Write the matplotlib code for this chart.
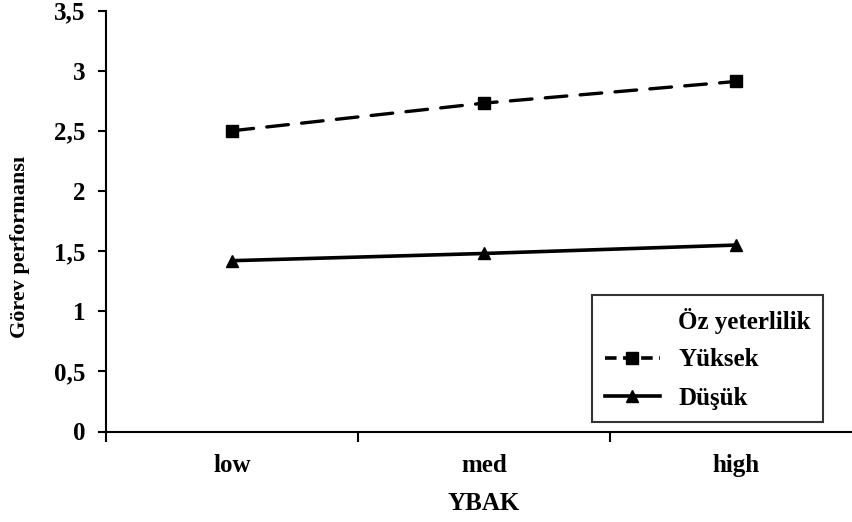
import matplotlib
matplotlib.use("Agg")

import matplotlib.pyplot as plt
from matplotlib.lines import Line2D
import numpy as np

plt.rcParams.update({"font.family": "Liberation Serif", "font.weight": "bold",
                     "axes.labelweight": "bold", "font.size": 18})

categories = ["low", "med", "high"]
yuksek = [2.50, 2.73, 2.91]
dusuk = [1.42, 1.48, 1.55]
yticks = [0, 0.5, 1, 1.5, 2, 2.5, 3, 3.5]
ytick_labels = ["0", "0,5", "1", "1,5", "2", "2,5", "3", "3,5"]

W, H = 852, 522
fig = plt.figure(figsize=(W / 100, H / 100), dpi=100)
# axes from x=106 to 862 (past the right edge), y from 10 to 431
ax = fig.add_axes([106 / W, (H - 431.5) / H, 756 / W, 421 / H])

x = np.arange(len(categories))
ax.plot(x, yuksek, color="black", lw=2.4, ls=(0, (6.5, 4)), marker="s", ms=8.5,
        dash_capstyle="round", label="Yüksek", clip_on=False)
ax.plot(x, dusuk, color="black", lw=2.6, ls="-", marker="^", ms=8.5,
        label="Düşük", clip_on=False)

ax.set_xlim(-0.5, 2.5)
ax.set_ylim(0, 3.5)
ax.set_yticks(yticks)
ax.set_yticklabels(ytick_labels)
ax.set_xticks([-0.5, 0.5, 1.5, 2.5])
ax.set_xticklabels([])
ax.set_xticks(x, minor=True)
ax.set_xticklabels(categories, minor=True)
ax.tick_params(axis="x", which="major", direction="out", length=7, width=1.5)
ax.tick_params(axis="x", which="minor", length=0, pad=16, labelsize=18)
ax.tick_params(axis="y", direction="out", length=6, width=1.5, pad=9, labelsize=18)

for s in ["top", "right"]:
    ax.spines[s].set_visible(False)
for s in ["left", "bottom"]:
    ax.spines[s].set_linewidth(1.5)

# axis titles placed in figure pixels
fig.text(484 / W, 1 - 503 / H, "YBAK", ha="center", va="center", fontsize=18)
fig.text(20 / W, 1 - 247 / H, "Görev performansı", ha="center", va="center",
         rotation=90, fontsize=16)

handles = [Line2D([], [], color="none"),
           Line2D([], [], color="black", lw=2.6, ls=(0, (3.2, 1.8)), marker="s", ms=8.5),
           Line2D([], [], color="black", lw=2.6, marker="^", ms=8.5)]
labels = ["Öz yeterlilik", "Yüksek", "Düşük"]
leg = ax.legend(handles, labels, loc="lower left",
                bbox_to_anchor=(592 / W, (H - 422) / H), bbox_transform=fig.transFigure,
                frameon=True, fancybox=False, fontsize=18, handlelength=2.2,
                handletextpad=0.75, labelspacing=0.6, borderpad=0.5, borderaxespad=0)
leg.get_frame().set_edgecolor("black")
leg.get_frame().set_linewidth(1.5)

fig.savefig("out.png", dpi=100)
